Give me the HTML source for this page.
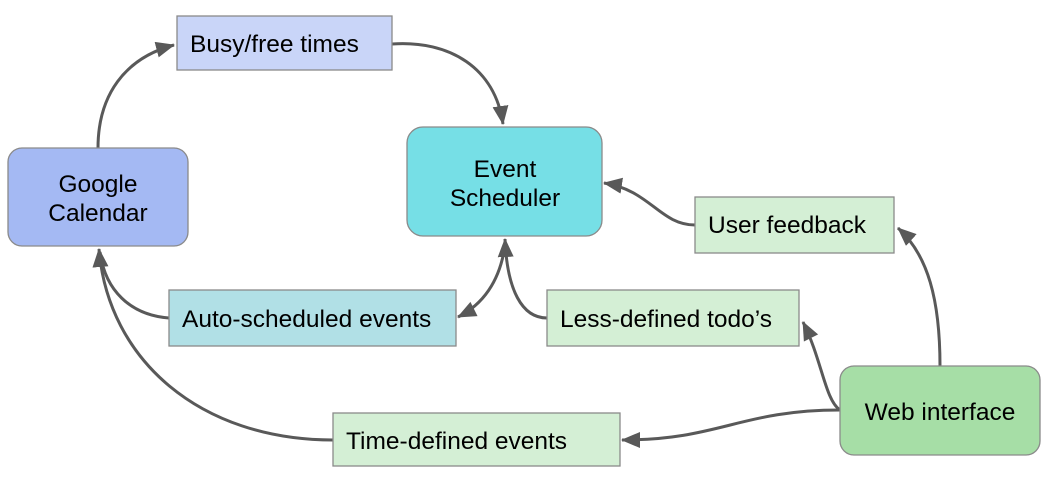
<!DOCTYPE html>
<html><head><meta charset="utf-8"><style>
body{margin:0;background:#fff;}
svg{display:block;font-family:"Liberation Sans",sans-serif;}
text{font-size:24.5px;fill:#000;}
</style></head><body>
<svg width="1047" height="487" viewBox="0 0 1047 487">
<defs>
<marker id="m" markerWidth="20" markerHeight="20" refX="18" refY="8" orient="auto" markerUnits="userSpaceOnUse"><path d="M0,0 L19,8 L0,16 z" fill="#595959"/></marker>
</defs>
<g fill="none" stroke="#595959" stroke-width="3">
<path d="M98,148 C98,95 125,58 174,45" marker-end="url(#m)"/>
<path d="M392,44 C450,40 495,68 503,124" marker-end="url(#m)"/>
<path d="M695,225 C660,225 650,190 604,183" marker-end="url(#m)"/>
<path d="M940,366 C940,300 928,255 898,228" marker-end="url(#m)"/>
<path d="M840,410 C825,400 822,360 803,322" marker-end="url(#m)"/>
<path d="M840,410 C740,410 720,440 622,440" marker-end="url(#m)"/>
<path d="M333,440 C200,440 108,360 99,249" marker-end="url(#m)"/>
<path d="M169,318 C130,315 105,290 100,252"/>
<path d="M547,318 C522,318 507,290 505,239" marker-end="url(#m)"/>
<path d="M505,245 C500,282 482,305 458,317" marker-end="url(#m)"/>
</g>
<g stroke="#8a8a8a" stroke-width="1.3">
<rect x="177" y="16" width="215" height="54" fill="#c9d5f8"/>
<rect x="8" y="148" width="180" height="98" rx="14" fill="#a4b9f3"/>
<rect x="407" y="127" width="195" height="109" rx="16" fill="#76dfe6"/>
<rect x="695" y="197" width="199" height="56" fill="#d4efd5"/>
<rect x="169" y="290" width="287" height="56" fill="#b1e0e6"/>
<rect x="547" y="290" width="252" height="56" fill="#d4efd5"/>
<rect x="840" y="366" width="200" height="89" rx="14" fill="#a6dea6"/>
<rect x="333" y="413" width="287" height="53" fill="#d4efd5"/>
</g>
<text x="190" y="52">Busy/free times</text>
<text x="98" y="192" text-anchor="middle">Google</text>
<text x="98" y="221" text-anchor="middle">Calendar</text>
<text x="505" y="177" text-anchor="middle">Event</text>
<text x="505" y="206" text-anchor="middle">Scheduler</text>
<text x="708" y="233">User feedback</text>
<text x="182" y="327">Auto-scheduled events</text>
<text x="560" y="327">Less-defined todo’s</text>
<text x="940" y="420" text-anchor="middle">Web interface</text>
<text x="346" y="449">Time-defined events</text>
</svg>
</body></html>
